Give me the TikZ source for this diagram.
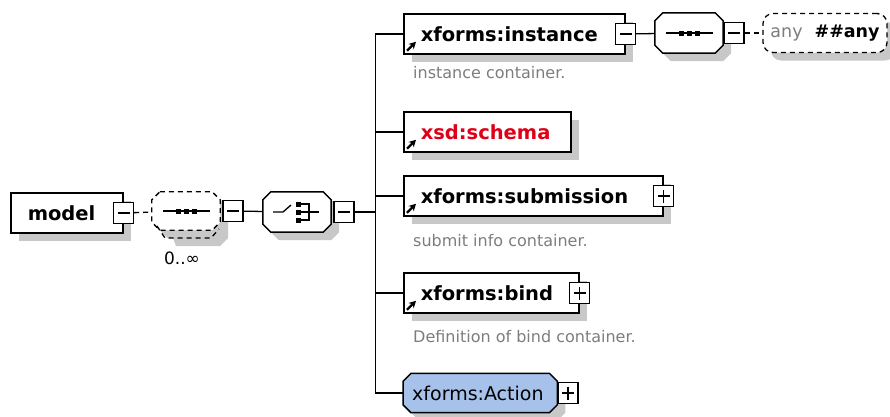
\documentclass[tikz,border=0pt]{standalone}
\usepackage{fontspec}
\setmainfont{DejaVu Sans}
\usetikzlibrary{positioning,shadows,arrows.meta}
\definecolor{shadowgray}{RGB}{200,200,200}
\definecolor{descgray}{RGB}{125,125,125}
\definecolor{schemared}{RGB}{222,0,24}
\definecolor{actionblue}{RGB}{166,194,234}
% octagon round a named node, corners cut by 8pt, moved by #2 (right) and #3 (down)
\newcommand\octpath[3]{([xshift=8pt+#2pt, yshift=-#3pt]#1.north west) -- ([xshift=-8pt+#2pt, yshift=-#3pt]#1.north east)
	-- ([xshift=#2pt, yshift=-8pt-#3pt]#1.north east) -- ([xshift=#2pt, yshift=8pt-#3pt]#1.south east)
	-- ([xshift=-8pt+#2pt, yshift=-#3pt]#1.south east) -- ([xshift=8pt+#2pt, yshift=-#3pt]#1.south west)
	-- ([xshift=#2pt, yshift=8pt-#3pt]#1.south west) -- ([xshift=#2pt, yshift=-8pt-#3pt]#1.north west) -- cycle}
\newcommand\octagon[2][]{%
	\fill[shadowgray] \octpath{#2}{8}{8};
	\draw[line width=1.5pt, fill=white, #1] \octpath{#2}{0}{0};}
\tikzset{
	conn/.style={line width=1.3pt},
	dashes/.style={line width=1.3pt, dash pattern=on 5pt off 4pt},
	boxshadow/.style={general shadow={fill=shadowgray, shadow xshift=8pt, shadow yshift=-8pt}},
	elem/.style={draw, line width=1.5pt, fill=white, anchor=west, minimum height=40pt,
		inner xsep=17pt, align=left, boxshadow, font=\fontsize{19.5}{22}\selectfont\bfseries},
	compositor/.style={minimum width=68pt, minimum height=40pt, inner sep=0pt},
	minusbox/.style={draw, line width=1.3pt, fill=white, minimum width=20pt, minimum height=21pt, inner sep=0pt,
		path picture={\draw[line width=1.2pt] ([xshift=4pt]path picture bounding box.west) -- ([xshift=-4pt]path picture bounding box.east);}},
	plusbox/.style={draw, line width=1.3pt, fill=white, minimum width=20pt, minimum height=21pt, inner sep=0pt,
		path picture={\draw[line width=1.2pt] ([xshift=4pt]path picture bounding box.west) -- ([xshift=-4pt]path picture bounding box.east)
			([yshift=-4pt]path picture bounding box.north) -- ([yshift=4pt]path picture bounding box.south);}},
	desc/.style={anchor=west, inner xsep=0pt, text=descgray, font=\fontsize{16}{18}\selectfont},
	refmark/.style={-{Stealth[length=7pt,width=7.5pt]}, line width=2.3pt},
}
\begin{document}
\begin{tikzpicture}[x=1pt, y=-1pt]
	\useasboundingbox (0,0) rectangle (890,416);

	% root element and its compositors
	\node[elem, text width=78pt] (model) at (10,213) {model};
	\node[minusbox] (modelm) at (model.east) {};
	\node[compositor, minimum height=38pt] (seq) at (186,211) {};
	\fill[shadowgray] (170,230) -- (228,230) -- (228,238) -- (220,246) -- (176,246) -- cycle;
	\octagon[dashes]{seq}
	\draw[dashes] (157,226) -- (165,238) -- (211,238) -- (219,229);
	\node[minusbox, anchor=west] (seqm) at ([xshift=2pt]seq.east) {};
	\node[font=\fontsize{17}{19}\selectfont] (mult) at (182,258) {0..∞};
	\node[compositor] (choice) at (297,212) {};
	\octagon{choice}
	\node[minusbox, anchor=west] (choicem) at ([xshift=2pt]choice.east) {};

	% sequence symbol
	\begin{scope}[shift={(seq.center)}]
		\draw[conn] (-23,0) -- (24,0);
		\foreach \dx in {-8,0,8}
			\fill (\dx-2.5,-2.5) rectangle (\dx+2.5,2.5);
	\end{scope}
	% choice symbol
	\begin{scope}[shift={(choice.center)}]
		\draw[conn] (-24,0) -- (-14,0) -- (-6,-7);
		\foreach \dy in {-8,0,8}
			\fill (-1,\dy-2.5) rectangle (4,\dy+2.5);
		\draw[conn] (4,-8) -- (12,-8) -- (12,8) -- (4,8);
		\draw[conn] (4,0) -- (22,0);
	\end{scope}

	\draw[dashes] (modelm) -- (seq);
	\draw[conn] (seqm) -- (choice);
	\draw[conn] (choicem.east) -- ++(21,0) coordinate (bus);

	% children
	\node[elem, text width=187pt] (inst) at (403,34) {xforms:instance};
	\node[minusbox] (instm) at (inst.east) {};
	\node[compositor] (instseq) at (689,33) {};
	\octagon{instseq}
	\node[minusbox, anchor=west] (instseqm) at (instseq.east) {};
	\node[draw, dashes, rounded corners=10pt, fill=white, minimum width=124pt, minimum height=39pt, boxshadow,
		font=\fontsize{17.5}{19}\selectfont] (any) at (825,33) {\textcolor{descgray}{any}\hspace{12pt}\textbf{\#\#any}};
	\begin{scope}[shift={(instseq.center)}]
		\draw[conn] (-23,0) -- (24,0);
		\foreach \dx in {-8,0,8}
			\fill (\dx-2.5,-2.5) rectangle (\dx+2.5,2.5);
	\end{scope}
	\draw[conn] (instm) -- (instseq);
	\draw[dashes] (instseqm) -- (any);
	\node[desc] (instd) at (413,73) {instance container.};

	\node[elem, text width=133pt, text=schemared] (schema) at (403,132) {xsd:schema};

	\node[elem, text width=225pt] (subm) at (403,196) {xforms:submission};
	\node[plusbox] (submp) at (subm.east) {};
	\node[desc] (submd) at (413,241) {submit info container.};

	\node[elem, text width=141pt] (bind) at (403,293) {xforms:bind};
	\node[plusbox] (bindp) at (bind.east) {};
	\node[desc] (bindd) at (413,337) {Definition of bind container.};

	\node[compositor, anchor=west, minimum width=154pt, minimum height=39pt] (action) at (403,393) {};
	\octagon[fill=actionblue]{action}
	\node[anchor=west, inner xsep=0pt, font=\fontsize{19}{21}\selectfont] (actiont) at ([xshift=9pt]action.west) {xforms:Action};
	\node[plusbox, anchor=west] (actionp) at (action.east) {};

	% reference arrows
	\foreach \el in {inst,schema,subm,bind}
		\draw[refmark] ([shift={(4pt,4pt)}]\el.south west) -- ++(9,-9);

	% bus to children
	\foreach \el in {inst,schema,subm,bind,action}
		\draw[conn] (bus) |- (\el.west);
\end{tikzpicture}
\end{document}
